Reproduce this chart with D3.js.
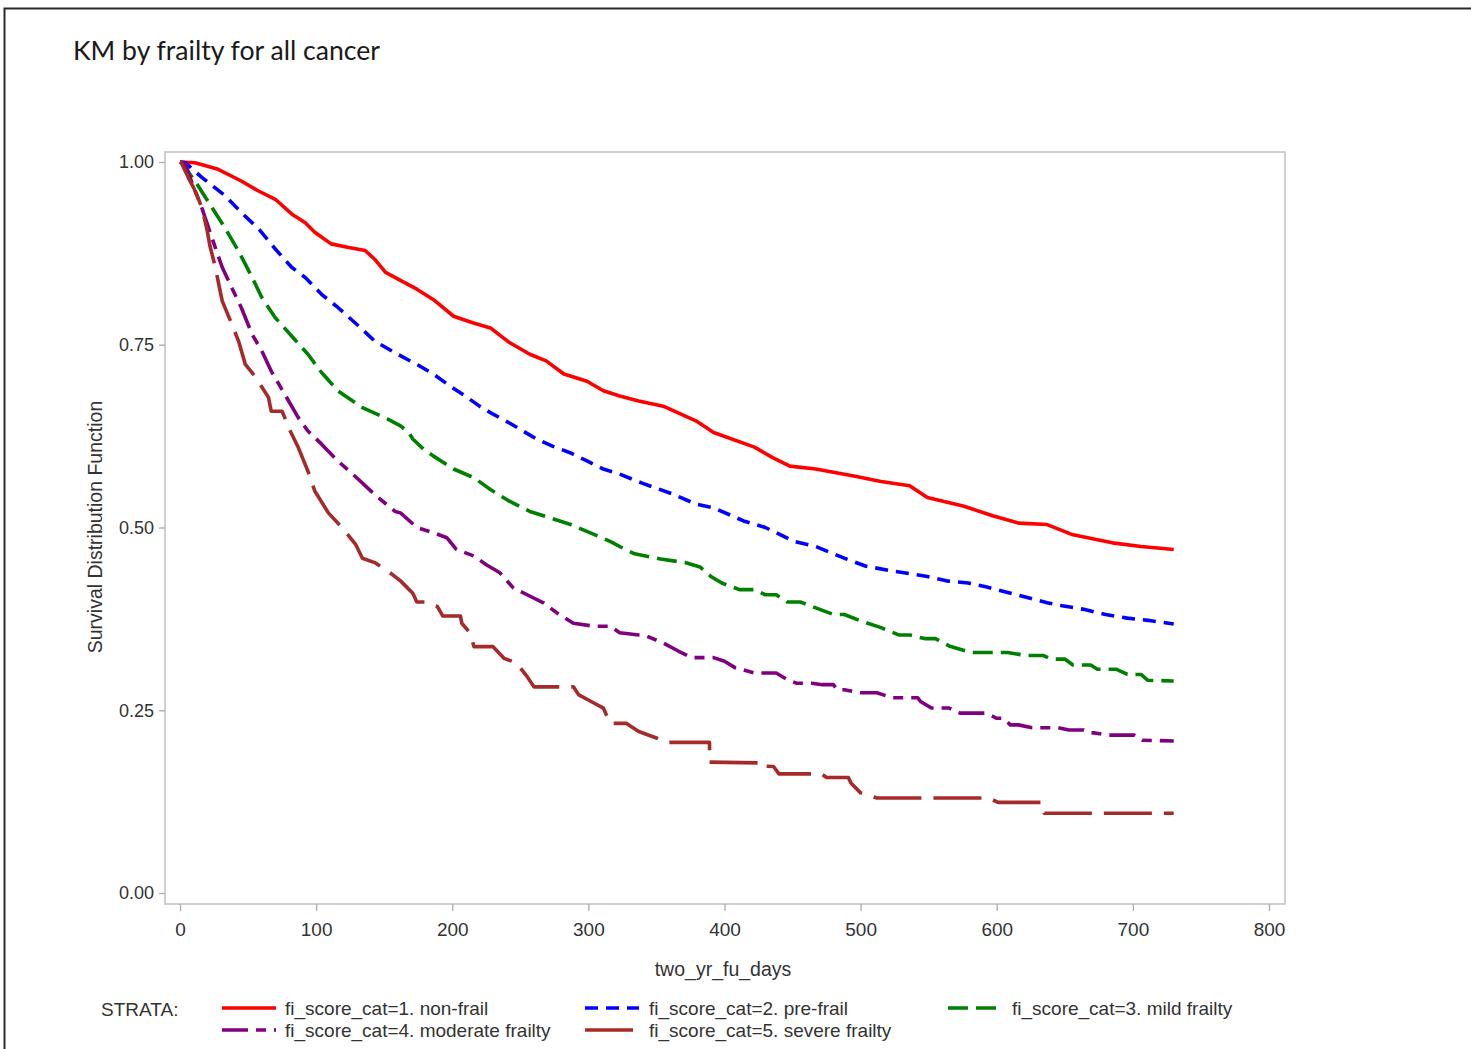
<!DOCTYPE html>
<html>
<head>
<meta charset="utf-8">
<script src="https://cdn.jsdelivr.net/npm/d3@7"></script>
<style>
  html, body { margin: 0; padding: 0; background: #fff; }
  svg { display: block; }
</style>
</head>
<body>
<svg id="chart" width="1471" height="1049"></svg>
<script>
// Kaplan-Meier survival estimates by frailty category, [day, survival] at each step
const nonFrail = [[0,1.0],[11,0.999],[28,0.990],[45,0.974],[57,0.961],[70,0.949],[82,0.929],[92,0.917],[99,0.904],[111,0.888],[124,0.883],[136,0.879],[143,0.867],[151,0.849],[165,0.835],[174,0.826],[186,0.812],[201,0.789],[215,0.780],[228,0.773],[242,0.753],[257,0.737],[269,0.728],[282,0.710],[299,0.700],[311,0.687],[323,0.680],[337,0.673],[355,0.666],[379,0.646],[392,0.630],[422,0.610],[435,0.596],[448,0.584],[467,0.580],[496,0.570],[515,0.563],[536,0.557],[549,0.541],[576,0.529],[597,0.516],[616,0.506],[637,0.504],[656,0.490],[685,0.479],[706,0.474],[730,0.470]];

const preFrail = [[0,1.0],[4,0.999],[16,0.979],[33,0.954],[45,0.931],[58,0.908],[70,0.881],[82,0.856],[92,0.842],[104,0.819],[116,0.801],[131,0.776],[143,0.755],[158,0.739],[176,0.721],[186,0.710],[198,0.694],[211,0.678],[220,0.666],[230,0.655],[242,0.643],[252,0.632],[262,0.621],[274,0.611],[287,0.602],[299,0.591],[311,0.580],[323,0.573],[339,0.561],[363,0.545],[379,0.532],[392,0.527],[414,0.509],[430,0.500],[451,0.481],[467,0.474],[488,0.458],[504,0.447],[525,0.440],[549,0.433],[563,0.427],[579,0.424],[592,0.419],[608,0.411],[621,0.405],[637,0.397],[648,0.393],[664,0.388],[680,0.381],[696,0.376],[711,0.373],[730,0.368]];

const mildFrailty = [[0,1.0],[1,0.999],[11,0.974],[21,0.945],[33,0.910],[43,0.878],[53,0.842],[60,0.815],[70,0.787],[82,0.762],[94,0.737],[104,0.712],[116,0.687],[134,0.664],[153,0.648],[162,0.639],[168,0.630],[171,0.621],[179,0.607],[186,0.598],[201,0.580],[216,0.568],[228,0.552],[242,0.536],[257,0.522],[272,0.513],[287,0.504],[301,0.493],[316,0.481],[323,0.474],[334,0.464],[353,0.457],[371,0.452],[382,0.446],[390,0.433],[398,0.424],[411,0.415],[422,0.415],[430,0.408],[438,0.408],[446,0.398],[456,0.398],[467,0.390],[480,0.381],[488,0.381],[499,0.373],[515,0.363],[528,0.353],[536,0.353],[547,0.348],[555,0.348],[565,0.338],[581,0.329],[608,0.329],[621,0.325],[634,0.325],[640,0.320],[650,0.320],[656,0.312],[669,0.312],[674,0.306],[688,0.306],[696,0.299],[706,0.299],[711,0.291],[730,0.290]];

const moderateFrailty = [[0,1.0],[4,0.997],[10,0.965],[15,0.943],[21,0.910],[25,0.888],[31,0.856],[38,0.828],[45,0.801],[53,0.764],[60,0.742],[67,0.714],[77,0.682],[87,0.650],[94,0.632],[104,0.614],[116,0.591],[131,0.566],[143,0.545],[158,0.522],[162,0.520],[174,0.500],[186,0.493],[196,0.486],[203,0.470],[216,0.461],[225,0.449],[235,0.438],[245,0.417],[255,0.408],[267,0.397],[277,0.383],[289,0.369],[304,0.365],[316,0.365],[323,0.356],[337,0.353],[342,0.352],[355,0.342],[366,0.331],[376,0.322],[392,0.322],[400,0.317],[408,0.308],[422,0.301],[438,0.301],[446,0.292],[453,0.287],[464,0.287],[472,0.285],[480,0.285],[483,0.278],[488,0.278],[499,0.274],[512,0.274],[523,0.267],[542,0.267],[544,0.262],[552,0.253],[565,0.253],[573,0.246],[592,0.246],[600,0.239],[605,0.239],[610,0.230],[616,0.230],[626,0.226],[645,0.226],[653,0.223],[664,0.223],[669,0.219],[672,0.219],[682,0.216],[701,0.216],[707,0.209],[730,0.208]];

const severeFrailty = [[0,1.0],[1,0.999],[6,0.979],[11,0.961],[16,0.938],[20,0.906],[22,0.885],[26,0.856],[28,0.837],[31,0.810],[37,0.783],[43,0.755],[48,0.723],[55,0.707],[65,0.678],[67,0.659],[75,0.659],[81,0.632],[87,0.609],[94,0.577],[99,0.550],[109,0.520],[119,0.500],[129,0.477],[134,0.458],[143,0.452],[153,0.440],[162,0.427],[171,0.410],[174,0.398],[180,0.398],[189,0.392],[193,0.379],[206,0.379],[207,0.369],[213,0.356],[216,0.337],[230,0.337],[238,0.321],[247,0.315],[255,0.296],[260,0.282],[289,0.282],[293,0.271],[302,0.262],[311,0.253],[316,0.232],[328,0.232],[337,0.221],[350,0.212],[359,0.206],[389,0.206],[389,0.179],[425,0.178],[425,0.174],[436,0.173],[440,0.163],[471,0.163],[475,0.158],[491,0.158],[493,0.150],[500,0.137],[512,0.130],[594,0.130],[601,0.124],[633,0.124],[635,0.109],[730,0.109]];

const strataLabels = ["fi_score_cat=1. non-frail", "fi_score_cat=2. pre-frail", "fi_score_cat=3. mild frailty", "fi_score_cat=4. moderate frailty", "fi_score_cat=5. severe frailty"];
const xTicks = [0, 100, 200, 300, 400, 500, 600, 700, 800];
const yTicks = [0, 0.25, 0.5, 0.75, 1.0];

const seriesData = [nonFrail, preFrail, mildFrailty, moderateFrailty, severeFrailty];
const colors = ["#ff0000", "#0000ff", "#008000", "#800080", "#a52a2a"];
const dashes = [null, "13,8", "20,8", "26,8,10,8", "48,12"];

const svg = d3.select("#chart");
const tickFont = "'Liberation Sans', Arial, sans-serif";
const textColor = "#333";
const textSize = 19;

// page frame
svg.append("path")
  .attr("d", "M4.5,1049 V8.5 H1471")
  .attr("fill", "none").attr("stroke", "#2a2a2a").attr("stroke-width", 2);

// title
svg.append("text")
  .attr("x", 73).attr("y", 60)
  .attr("font-family", "Lato, 'Open Sans', sans-serif")
  .attr("font-size", 26.6)
  .attr("fill", "#1a1a1a")
  .text("KM by frailty for all cancer");

const x = d3.scaleLinear().domain([0, 800]).range([180, 1269]);
const y = d3.scaleLinear().domain([0, 1]).range([893, 162]);

const frame = { left: 165, right: 1285, top: 152, bottom: 904 };

// plot frame
svg.append("rect")
  .attr("x", frame.left).attr("y", frame.top)
  .attr("width", frame.right - frame.left).attr("height", frame.bottom - frame.top)
  .attr("fill", "none").attr("stroke", "#c4c4c4").attr("stroke-width", 1.6);

// y axis
const yAxis = svg.append("g")
  .attr("transform", `translate(${frame.left},0)`)
  .call(d3.axisLeft(y).tickValues(yTicks).tickFormat(d3.format(".2f")).tickSize(6).tickPadding(5));
yAxis.select(".domain").remove();
yAxis.selectAll(".tick line").attr("stroke", "#b0b0b0").attr("stroke-width", 1.4);
yAxis.selectAll(".tick text").attr("font-family", tickFont).attr("font-size", 18).attr("fill", textColor);

// x axis
const xAxis = svg.append("g")
  .attr("transform", `translate(0,${frame.bottom})`)
  .call(d3.axisBottom(x).tickValues(xTicks).tickFormat(d3.format("d")).tickSize(7).tickPadding(12));
xAxis.select(".domain").remove();
xAxis.selectAll(".tick line").attr("stroke", "#b0b0b0").attr("stroke-width", 1.4);
xAxis.selectAll(".tick text").attr("font-family", tickFont).attr("font-size", textSize).attr("fill", textColor);

// axis titles
svg.append("text")
  .attr("transform", "translate(102,527) rotate(-90)")
  .attr("text-anchor", "middle")
  .attr("font-family", tickFont).attr("font-size", 19.5).attr("fill", textColor)
  .text("Survival Distribution Function");

svg.append("text")
  .attr("x", 723).attr("y", 976)
  .attr("text-anchor", "middle")
  .attr("font-family", tickFont).attr("font-size", 19.5).attr("fill", textColor)
  .text("two_yr_fu_days");

// survival curves
const line = d3.line().x(d => x(d[0])).y(d => y(d[1])).curve(d3.curveLinear);
const curves = svg.append("g");
seriesData.forEach((data, i) => {
  curves.append("path")
    .datum(data)
    .attr("d", line)
    .attr("fill", "none")
    .attr("stroke", colors[i])
    .attr("stroke-width", 3.6)
    .attr("stroke-linejoin", "round")
    .attr("stroke-dasharray", dashes[i]);
});

// legend
const legend = svg.append("g");
legend.append("text")
  .attr("x", 101).attr("y", 1016)
  .attr("font-family", tickFont).attr("font-size", textSize).attr("fill", textColor)
  .text("STRATA:");

const legendPos = [
  { lx: 222, tx: 285, ty: 1008 },
  { lx: 585, tx: 649, ty: 1008 },
  { lx: 948, tx: 1012, ty: 1008 },
  { lx: 222, tx: 285, ty: 1030 },
  { lx: 585, tx: 649, ty: 1030 }
];
strataLabels.forEach((label, i) => {
  const p = legendPos[i];
  legend.append("line")
    .attr("x1", p.lx).attr("x2", p.lx + 54)
    .attr("y1", p.ty).attr("y2", p.ty)
    .attr("stroke", colors[i]).attr("stroke-width", 3.6)
    .attr("stroke-dasharray", dashes[i]);
  legend.append("text")
    .attr("x", p.tx).attr("y", p.ty + 7)
    .attr("font-family", tickFont).attr("font-size", textSize).attr("fill", textColor)
    .text(label);
});
</script>
</body>
</html>
